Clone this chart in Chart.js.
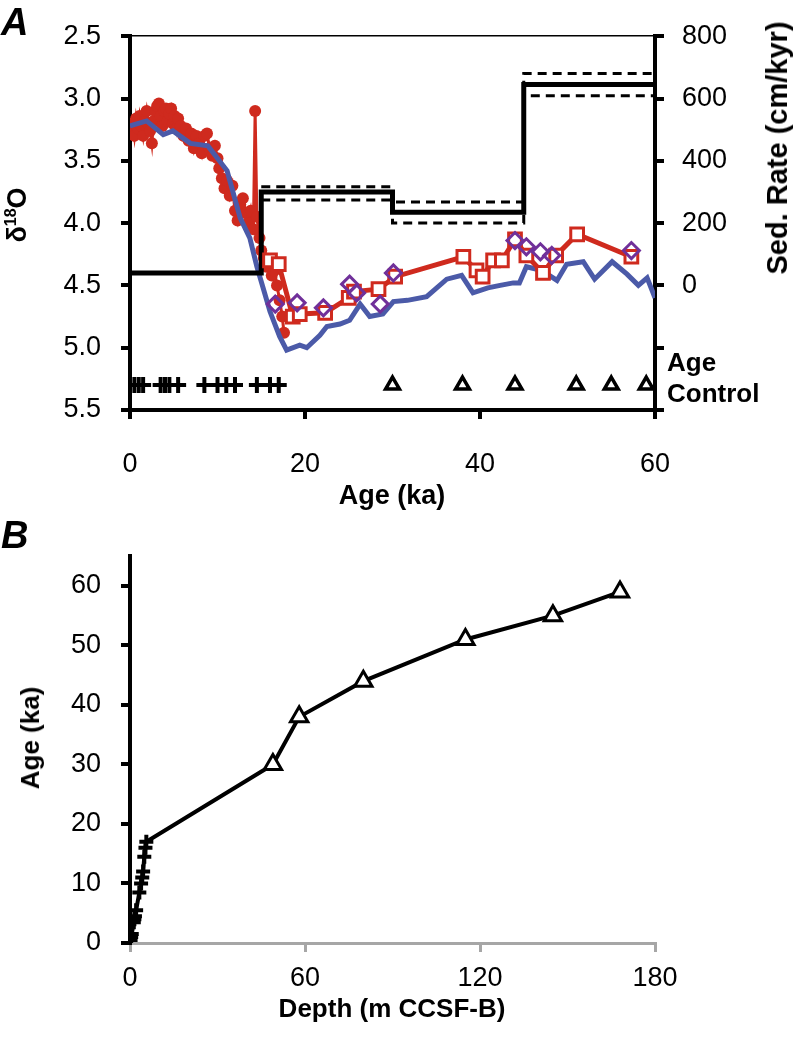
<!DOCTYPE html>
<html>
<head>
<meta charset="utf-8">
<script src="https://cdn.jsdelivr.net/npm/chart.js@4.4.1/dist/chart.umd.min.js"></script>
<style>
  body { margin: 0; background: #fff; }
  #wrap { position: relative; width: 796px; height: 1049px; font-family: "Liberation Sans", Arial, sans-serif; }
  canvas { position: absolute; left: 0; }
  .lbl { position: absolute; color: #000; white-space: nowrap; font-weight: bold; font-size: 26px; line-height: 30px; }
  .rot { transform: translate(-50%, -50%) rotate(-90deg); }
  .ctr { transform: translateX(-50%); }
  .panel { font-size: 38px; font-style: italic; line-height: 38px; }
  sup { font-size: 16px; vertical-align: 10px; line-height: 0; }
</style>
</head>
<body>
<div id="wrap">
  <canvas id="chartA" width="796" height="520" style="top:0"></canvas>
  <canvas id="chartB" width="796" height="529" style="top:520px"></canvas>
  <div class="lbl panel" style="left:1px;top:3px">A</div>
  <div class="lbl panel" style="left:1px;top:516px">B</div>
  <div class="lbl rot" style="left:17px;top:215px;font-size:27px">&delta;<sup>18</sup>O</div>
  <div class="lbl rot" style="left:777px;top:148px;font-size:29px">Sed. Rate (cm/kyr)</div>
  <div class="lbl" style="left:667px;top:347px;line-height:31px">Age<br>Control</div>
  <div class="lbl ctr" style="left:392px;top:480px;font-size:27px">Age (ka)</div>
  <div class="lbl rot" style="left:30px;top:738px">Age (ka)</div>
  <div class="lbl ctr" style="left:392px;top:993px">Depth (m CCSF-B)</div>
</div>
<script>
// ---- Panel A : d18O (left axis) and sedimentation rate (right axis) vs age
var ageTicksA = [0, 20, 40, 60];
var d18OTicks = [2.5, 3.0, 3.5, 4.0, 4.5, 5.0, 5.5];
var sedTicks = [-400, -200, 0, 200, 400, 600, 800];

// high resolution record (red dots)
var redAge = [0.1, 0.3, 0.5, 0.7, 0.9, 1.1, 1.3, 1.5, 1.7, 1.9, 2.1, 2.3, 2.5, 2.7, 2.9, 3.1, 3.3, 3.5, 3.7, 3.9,
  4.1, 4.3, 4.5, 4.7, 4.9, 5.1, 5.3, 5.5, 5.8, 6.1, 6.4, 6.7, 7.0, 7.3, 7.6, 7.9, 8.2, 8.5, 8.8, 9.1,
  9.4, 9.7, 10.0, 10.2, 10.5, 10.8, 11.1, 11.4, 11.7, 12.0, 12.3, 12.6, 12.9, 13.2, 13.5, 13.8, 14.1, 14.3, 14.5, 14.8,
  15.0, 15.3, 15.6, 15.9, 16.2, 16.5, 16.8, 17.1, 17.4, 17.6];
var redD18O = [3.26, 3.20, 3.30, 3.16, 3.24, 3.14, 3.22, 3.30, 3.18, 3.10, 3.20, 3.26, 3.36, 3.18, 3.10, 3.06, 3.04, 3.14, 3.22, 3.10,
  3.08, 3.18, 3.12, 3.08, 3.20, 3.14, 3.24, 3.16, 3.22, 3.30, 3.24, 3.34, 3.28, 3.40, 3.30, 3.36, 3.44, 3.30, 3.28, 3.40,
  3.46, 3.38, 3.48, 3.56, 3.64, 3.72, 3.66, 3.78, 3.70, 3.90, 3.98, 3.85, 3.80, 3.92, 4.00, 3.90, 4.05, 3.10, 3.95, 4.12,
  4.22, 4.28, 4.35, 4.30, 4.42, 4.38, 4.50, 4.62, 4.75, 4.88];

// blue reference curve
var blueAge = [0, 1.9, 3.8, 4.9, 6.9, 8.9, 11.1, 12.0, 12.6, 13.7, 14.5, 16.0, 17.1, 17.9, 19.4, 20.2, 21.7, 22.5, 24.0, 25.1,
  26.3, 27.4, 28.9, 30.1, 31.7, 33.9, 36.2, 37.9, 39.2, 40.9, 42.3, 43.8, 44.5, 45.3, 46.5, 47.7, 48.8, 49.9, 51.8, 53.1,
  55.1, 56.8, 58.1, 59.1, 60];
var blueD18O = [3.22, 3.18, 3.29, 3.26, 3.36, 3.38, 3.58, 3.81, 3.96, 4.12, 4.35, 4.71, 4.91, 5.02, 4.98, 5.00, 4.90, 4.83, 4.81, 4.78,
  4.65, 4.75, 4.73, 4.63, 4.62, 4.59, 4.45, 4.42, 4.56, 4.52, 4.50, 4.48, 4.48, 4.35, 4.37, 4.41, 4.46, 4.33, 4.31, 4.45,
  4.31, 4.41, 4.50, 4.44, 4.60];

// red open squares
var sqAge = [16.0, 17.0, 18.6, 19.4, 22.3, 25.0, 25.6, 28.4, 30.3, 38.1, 39.6, 40.3, 41.5, 42.5, 44.0, 45.3, 47.2, 48.7, 51.1, 57.3];
var sqD18O = [4.30, 4.33, 4.75, 4.73, 4.72, 4.60, 4.55, 4.53, 4.43, 4.27, 4.38, 4.43, 4.30, 4.30, 4.13, 4.26, 4.40, 4.26, 4.09, 4.27];

// purple open diamonds
var dmAge = [16.6, 19.1, 22.1, 25.1, 25.9, 28.6, 30.1, 44.0, 45.3, 46.9, 48.2, 57.3];
var dmD18O = [4.65, 4.64, 4.68, 4.49, 4.56, 4.65, 4.40, 4.14, 4.19, 4.23, 4.26, 4.22];

// sedimentation rate steps (cm/kyr) with upper / lower bounds
var sedAge = [0, 15, 15, 30, 30, 45, 45, 60];
var sedRate = [40, 40, 300, 300, 235, 235, 645, 645];
var sedBoundAge = [15, 30, 30, 45, 45, 60];
var sedUpper = [317, 317, 268, 268, 680, 680];
var sedLower = [274, 274, 200, 200, 609, 609];

// age control points
var crossAge = [0.5, 1.0, 1.5, 3.5, 4.0, 4.5, 5.5, 8.5, 10.0, 11.0, 12.0, 14.5, 16.0, 17.0];
var triAge = [30, 38, 44, 51, 55, 59];
var ctrlLevel = 5.3;

// ---- Panel B : age-depth model
var depthTicks = [0, 60, 120, 180];
var ageTicksB = [0, 10, 20, 30, 40, 50, 60];
var crossDepth = [0.2, 0.4, 0.6, 1.3, 1.5, 1.7, 2.1, 3.2, 3.8, 4.2, 4.5, 4.9, 5.3, 5.6];
var triDepth = [49, 58, 80, 115, 145, 168];

var red = '#cf2a1e', blue = '#4b5aa8', purple = '#70309a';

function pts(xs, ys) { return xs.map(function (x, i) { return { x: x, y: ys[i] }; }); }
function fixed(list) { return function (s) { s.ticks = list.map(function (v) { return { value: v }; }); }; }
function ctrlRow(xs) { return xs.map(function () { return ctrlLevel; }); }

Chart.defaults.color = '#000';
Chart.defaults.font = { family: '"Liberation Sans", Arial, sans-serif', size: 27 };

var axisGrid = { drawOnChartArea: false, color: '#000', tickLength: 9, lineWidth: 4 };

new Chart(document.getElementById('chartA'), {
  type: 'scatter',
  data: {
    datasets: [
      { data: pts(dmAge, dmD18O), yAxisID: 'y', pointStyle: 'rectRot', pointRadius: 8, borderWidth: 3,
        borderColor: purple, backgroundColor: 'rgba(255,255,255,0)', showLine: false },
      { data: pts(sqAge, sqD18O), yAxisID: 'y', showLine: true, borderColor: red, borderWidth: 5,
        pointStyle: 'rect', pointRadius: 9, pointBorderWidth: 3, pointBorderColor: red, pointBackgroundColor: '#fff' },
      { data: pts(sedAge, sedRate), yAxisID: 'y2', showLine: true, borderColor: '#000', borderWidth: 5, pointRadius: 0 },
      { data: pts(sedBoundAge, sedUpper), yAxisID: 'y2', showLine: true, borderColor: '#000', borderWidth: 3,
        borderDash: [9, 6], pointRadius: 0 },
      { data: pts(sedBoundAge, sedLower), yAxisID: 'y2', showLine: true, borderColor: '#000', borderWidth: 3,
        borderDash: [9, 6], pointRadius: 0 },
      { data: pts(blueAge, blueD18O), yAxisID: 'y', showLine: true, borderColor: blue, borderWidth: 5, pointRadius: 0 },
      { data: pts(redAge, redD18O), yAxisID: 'y', showLine: true, borderColor: red, borderWidth: 3,
        pointRadius: 6, pointBackgroundColor: red, pointBorderWidth: 0 },
      { data: pts(crossAge, ctrlRow(crossAge)), yAxisID: 'y', pointStyle: 'cross', pointRadius: 8,
        borderColor: '#000', borderWidth: 4, showLine: false },
      { data: pts(triAge, ctrlRow(triAge)), yAxisID: 'y', pointStyle: 'triangle', pointRadius: 8,
        borderColor: '#000', backgroundColor: '#fff', borderWidth: 3.5, showLine: false }
    ]
  },
  options: {
    responsive: false,
    animation: false,
    layout: { padding: { top: 20, left: 0, right: 0, bottom: 0 } },
    plugins: { legend: { display: false }, tooltip: { enabled: false } },
    scales: {
      x: {
        type: 'linear', min: 0, max: 60,
        afterBuildTicks: fixed(ageTicksA),
        afterFit: function (s) { s.height = 110; },
        border: { color: '#000', width: 4 },
        grid: axisGrid,
        ticks: { padding: 29, autoSkip: false, maxRotation: 0 }
      },
      xTop: {
        type: 'linear', position: 'top', min: 0, max: 60,
        afterFit: function (s) { s.height = 0; },
        border: { color: '#000', width: 1.5 },
        grid: { display: false },
        ticks: { display: false }
      },
      y: {
        type: 'linear', position: 'left', reverse: true, min: 2.5, max: 5.5,
        afterBuildTicks: fixed(d18OTicks),
        afterFit: function (s) { s.width = 130; },
        border: { color: '#000', width: 4 },
        grid: axisGrid,
        ticks: { padding: 20, callback: function (v) { return v.toFixed(1); } }
      },
      y2: {
        type: 'linear', position: 'right', min: -400, max: 800,
        afterBuildTicks: fixed(sedTicks),
        afterFit: function (s) { s.width = 141; },
        border: { color: '#000', width: 4 },
        grid: axisGrid,
        ticks: { padding: 18, callback: function (v) { return v < 0 ? '' : String(v); } }
      }
    }
  }
});

new Chart(document.getElementById('chartB'), {
  type: 'scatter',
  data: {
    datasets: [
      { data: pts(triDepth, triAge), pointStyle: 'triangle', pointRadius: 10, borderColor: '#000',
        backgroundColor: '#fff', borderWidth: 3, showLine: false },
      { data: pts(crossDepth, crossAge), pointStyle: 'cross', pointRadius: 7, borderColor: '#000',
        borderWidth: 4, showLine: false },
      { data: pts(crossDepth.concat(triDepth), crossAge.concat(triAge)), showLine: true,
        borderColor: '#000', borderWidth: 4, pointRadius: 0 }
    ]
  },
  options: {
    responsive: false,
    animation: false,
    layout: { padding: { top: 31, left: 0, right: 141, bottom: 0 } },
    plugins: { legend: { display: false }, tooltip: { enabled: false } },
    scales: {
      x: {
        type: 'linear', min: 0, max: 180,
        afterBuildTicks: fixed(depthTicks),
        afterFit: function (s) { s.height = 106; },
        border: { color: '#a6a6a6', width: 3 },
        grid: { drawOnChartArea: false, color: '#a6a6a6', tickLength: 9, lineWidth: 3 },
        ticks: { padding: 10, autoSkip: false, maxRotation: 0 }
      },
      y: {
        type: 'linear', position: 'left', min: 0, max: 65,
        afterBuildTicks: fixed(ageTicksB),
        afterFit: function (s) { s.width = 130; },
        border: { color: '#000', width: 4 },
        grid: axisGrid,
        ticks: { padding: 20 }
      }
    }
  }
});
</script>
</body>
</html>
